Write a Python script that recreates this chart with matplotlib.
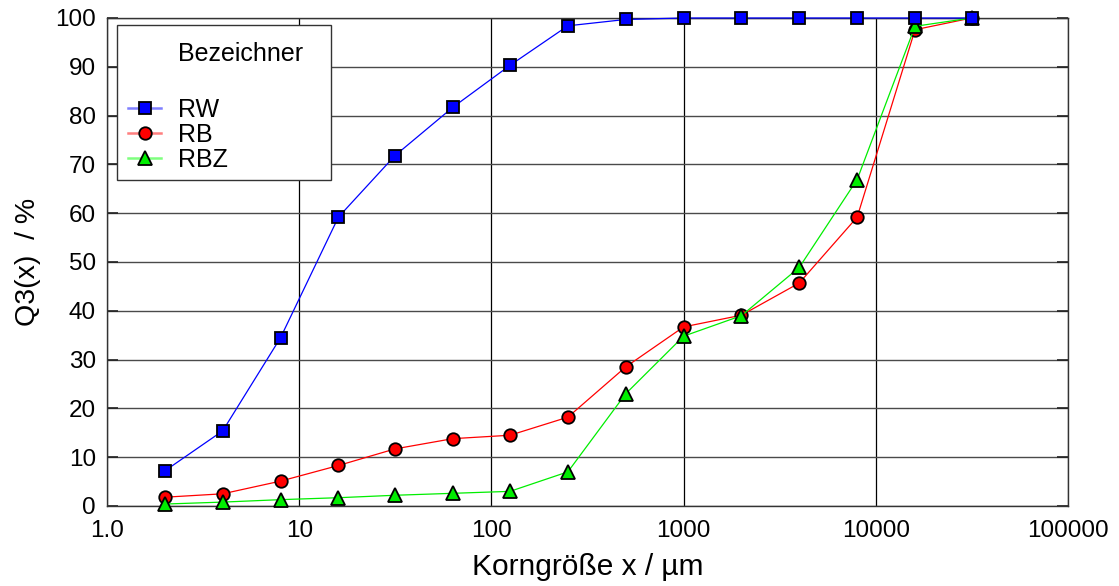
import matplotlib
matplotlib.use("Agg")
import matplotlib.pyplot as plt
from matplotlib.lines import Line2D
from matplotlib.patches import Rectangle
from matplotlib.legend_handler import HandlerTuple
from matplotlib.ticker import FixedLocator, FixedFormatter, NullLocator

plt.rcParams['font.family'] = ['Liberation Sans', 'DejaVu Sans']

# Sieve sizes in µm
korn = [2, 4, 8, 16, 31.5, 63, 125, 250, 500, 1000, 2000, 4000, 8000, 16000, 31500]

# Cumulative passing Q3 in %
rw = [7.2, 15.4, 34.5, 59.2, 71.8, 81.7, 90.3, 98.4, 99.7, 100, 100, 100, 100, 100, 100]
rb = [1.8, 2.5, 5.1, 8.3, 11.7, 13.8, 14.5, 18.2, 28.5, 36.7, 39.1, 45.7, 59.2, 97.6, 100]
rbz = [0.4, 0.8, 1.3, 1.7, 2.2, 2.6, 3.0, 7.0, 23.0, 34.8, 39.0, 48.9, 66.9, 98.3, 100]

series_names = ["RW", "RB", "RBZ"]
legend_title = "Bezeichner"

x_ticks = [1, 10, 100, 1000, 10000, 100000]
x_labels = ["1.0", "10", "100", "1000", "10000", "100000"]
y_ticks = [0, 10, 20, 30, 40, 50, 60, 70, 80, 90, 100]

W, H = 1119, 586
L, R, T, B = 107, 1068, 18, 506  # plot box in pixels
fig = plt.figure(figsize=(W / 100, H / 100), dpi=100)
ax = fig.add_axes([L / W, 1 - B / H, (R - L) / W, (B - T) / H])
aw, ah = R - L, B - T

ax.set_xscale("log")
ax.set_xlim(1, 100000)
ax.set_ylim(0, 100)

ax.xaxis.set_major_locator(FixedLocator(x_ticks))
ax.xaxis.set_major_formatter(FixedFormatter(x_labels))
ax.xaxis.set_minor_locator(NullLocator())
ax.yaxis.set_major_locator(FixedLocator(y_ticks))

ax.grid(axis="x", color="black", linewidth=0.9)
ax.grid(axis="y", color="#4a4a4a", linewidth=1.0)
ax.set_axisbelow(True)

for s in ax.spines.values():
    s.set_color("#333333")
    s.set_linewidth(1.0)

ax.tick_params(axis="y", direction="in", length=8, width=1.2, color="#222222",
               left=True, right=True, labelsize=17.5, pad=8)
ax.tick_params(axis="x", direction="in", length=0, labelsize=17.5, pad=10)

styles = [
    dict(color="#0000ff", light="#7f7fff", marker="s", ms=9, data=rw, z=5),
    dict(color="#ff0000", light="#ff7f7f", marker="o", ms=9, data=rb, z=3),
    dict(color="#00ee00", light="#7fff7f", marker="^", ms=9.5, data=rbz, z=4),
]

handles = [Line2D([], [], linestyle="none"), Line2D([], [], linestyle="none")]
labels = [legend_title, " "]
for name, st in zip(series_names, styles):
    ax.plot(korn, st["data"], color=st["color"], linewidth=0.9,
            marker=st["marker"], markersize=st["ms"],
            markerfacecolor=st["color"], markeredgecolor="black",
            markeredgewidth=1.3, clip_on=False, zorder=st["z"])
    line_h = Line2D([], [], color=st["light"], linewidth=1.8)
    mark_h = Line2D([], [], linestyle="none", marker=st["marker"],
                    markersize=st["ms"], markerfacecolor=st["color"],
                    markeredgecolor="black", markeredgewidth=1.3)
    handles.append((line_h, mark_h))
    labels.append(name)

# Legend frame drawn as a separate box so its size is independent of the text rows
box_l, box_t, box_r, box_b = 117, 25, 331, 180
frame = Rectangle(((box_l - L) / aw, (B - box_b) / ah),
                  (box_r - box_l) / aw, (box_b - box_t) / ah,
                  transform=ax.transAxes, facecolor="white",
                  edgecolor="#333333", linewidth=1.0, zorder=6, clip_on=False)
ax.add_patch(frame)

leg = ax.legend(handles, labels, loc="upper left", mode="expand",
                bbox_to_anchor=((box_l - L) / aw, (B - 181) / ah,
                                (box_r - box_l) / aw, 150 / ah),
                handler_map={tuple: HandlerTuple(ndivide=1)},
                fontsize=18, frameon=False, borderpad=0.45,
                handlelength=1.3, handletextpad=0.68, labelspacing=0.04,
                borderaxespad=0, numpoints=1)
leg.set_zorder(7)
leg.get_texts()[1].set_fontsize(23)

ax.set_xlabel("Korngröße x / µm", fontsize=21.5, labelpad=8)
ax.set_ylabel("Q3(x)  / %", fontsize=20.5, labelpad=10)

fig.savefig("out.png", dpi=100)
